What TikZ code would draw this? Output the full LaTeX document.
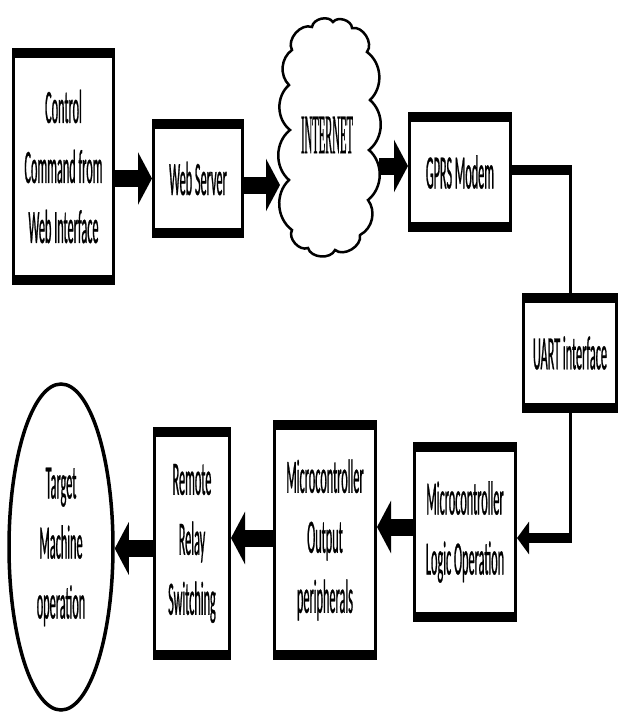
\documentclass[tikz,border=0pt]{standalone}
\usepackage{fontspec}
\usepackage{tikz}
\usetikzlibrary{arrows.meta,shapes.geometric}
\newfontfamily\boxfont[FakeStretch=0.255,FakeBold=0.5]{Carlito}
\newfontfamily\netfont[FakeStretch=0.19,FakeBold=0.3]{Liberation Serif}

\tikzset{
  blockbox/.style={draw, line width=3pt, align=center, inner sep=0pt,
    font=\fontsize{48}{60}\selectfont\boxfont,
    path picture={
      \fill (path picture bounding box.north west) rectangle ([yshift=-8.5pt]path picture bounding box.north east);
      \fill (path picture bounding box.south west) rectangle ([yshift=8.5pt]path picture bounding box.south east);
    }},
  blockarrow/.style={line width=17pt, -{Triangle[length=14pt 0 0, width=52pt 0 0]}},
  smallarrow/.style={line width=10pt, -{Triangle[length=12pt 0 0, width=32pt 0 0]}},
  thinline/.style={line width=3pt}
}

\begin{document}
\begin{tikzpicture}[x=1pt, y=-1pt]
  \useasboundingbox (0,0) rectangle (620,713);

  % top row
  \node[blockbox, minimum width=100pt, minimum height=234pt] (ctrl) at (63.5,166.5) {Control\\Command from\\Web Interface};
  \node[blockbox, minimum width=89pt, minimum height=116pt] (web) at (198,178.5) {Web Server};

  % the cloud
  \draw[line width=2.5pt] (292,50) to[bend left=70] (312,27) to[bend left=70] (333,22)
    to[bend left=70] (352,28) to[bend left=70] (367,52)
    to[bend left=50] (370,100) to[bend left=50] (369,150) to[bend left=50] (368,200)
    to[bend left=50] (360,235) to[bend left=70] (335,250) to[bend left=70] (308,248)
    to[bend left=70] (292,230) to[bend left=50] (289,180) to[bend left=50] (290,130)
    to[bend left=50] (289,85) to[bend left=50] cycle;
  \node[font=\fontsize{56}{56}\selectfont\netfont, inner sep=0pt] (net) at (327,135) {INTERNET};
  \coordinate (netin) at (280,185);
  \coordinate (netout) at (379,166);

  \node[blockbox, minimum width=101pt, minimum height=117pt] (gprs) at (460,172) {GPRS Modem};

  % right side
  \node[blockbox, minimum width=93pt, minimum height=117pt] (uart) at (570,353) {UART interface};

  % bottom row
  \node[blockbox, minimum width=101pt, minimum height=177pt] (logic) at (465,532) {Microcontroller\\Logic Operation};
  \node[blockbox, minimum width=101pt, minimum height=237pt] (outp) at (325,540) {Microcontroller\\Output\\peripherals};
  \node[blockbox, minimum width=75pt, minimum height=230pt] (relay) at (192,543.5) {Remote\\Relay\\Switching};
  \node[ellipse, draw, line width=3.5pt, inner sep=0pt, align=center,
        minimum width=104pt, minimum height=326pt,
        font=\fontsize{48}{60}\selectfont\boxfont] (target) at (61,547) {Target\\Machine\\operation};

  \draw[blockarrow] (ctrl.east |- web.west) -- (web.west);
  \draw[blockarrow] (web.east |- netin) -- (netin);
  \draw[blockarrow] (netout) -- (gprs.west |- netout);

  \coordinate (bendtop) at ([yshift=2pt]gprs.east -| uart.north);
  \draw[line width=10pt] ([yshift=2pt]gprs.east) -- ([xshift=1.5pt]bendtop);
  \draw[thinline] (bendtop) -- (uart.north);

  \coordinate (bendlow) at ([yshift=-6pt]logic.east -| uart.south);
  \draw[thinline] (uart.south) -- ([yshift=-5pt]bendlow);
  \draw[smallarrow] ([xshift=1.5pt]bendlow) -- ([yshift=-6pt]logic.east);

  \draw[blockarrow] ([yshift=5pt]logic.west) -- ([yshift=5pt]logic.west -| outp.east);
  \draw[blockarrow] ([yshift=2pt]outp.west) -- ([yshift=2pt]outp.west -| relay.east);
  \draw[blockarrow] ([yshift=-5pt]relay.west) -- ([yshift=-5pt]relay.west -| target.east);
\end{tikzpicture}
\end{document}
